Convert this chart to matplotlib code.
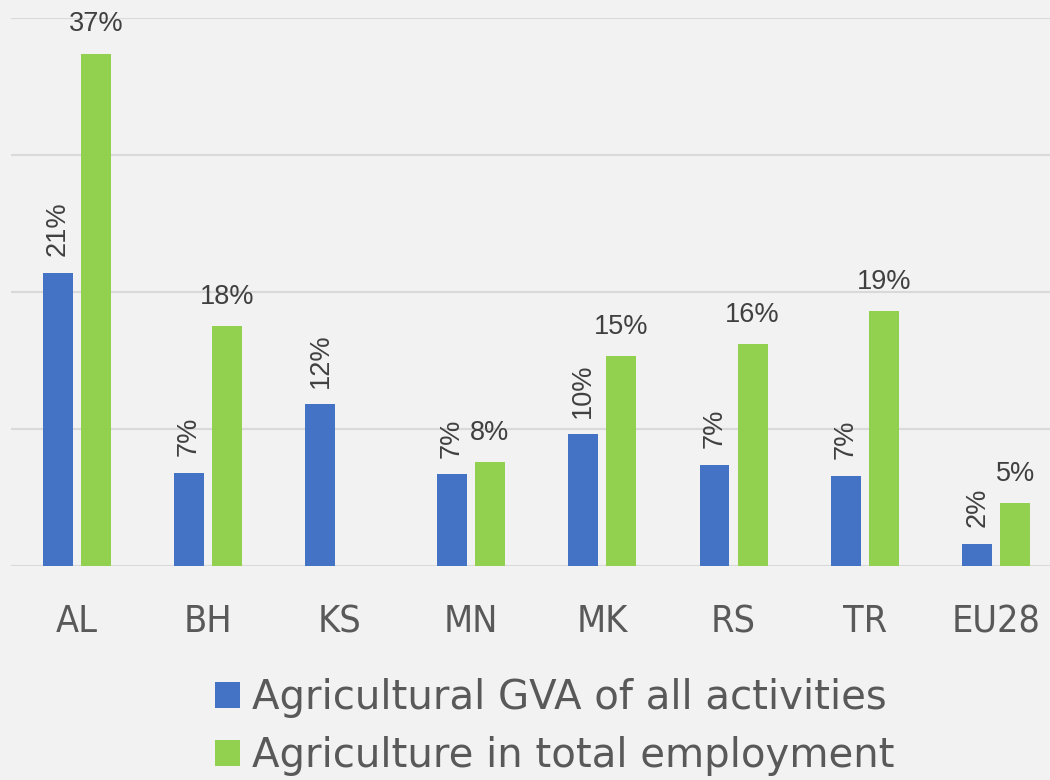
import matplotlib
matplotlib.use("Agg")
import matplotlib.pyplot as plt
from matplotlib import font_manager
from matplotlib.patches import Patch
import numpy as np

categories = ["AL", "BH", "KS", "MN", "MK", "RS", "TR", "EU28"]
gva_share = [21.4, 6.8, 11.8, 6.7, 9.6, 7.4, 6.6, 1.6]
employment_share = [37.4, 17.5, np.nan, 7.6, 15.3, 16.2, 18.6, 4.6]
series_names = ["Agricultural GVA of all activities", "Agriculture in total employment"]

fl = font_manager.fontManager.ttflist
names = {f.name for f in fl}
has_cond = any(f.name == "DejaVu Sans" and f.stretch == "condensed" for f in fl)
regular = "Liberation Sans" if "Liberation Sans" in names else "DejaVu Sans"
if has_cond:
    tick_font = dict(fontfamily="DejaVu Sans", fontstretch="condensed", fontsize=27)
else:
    tick_font = dict(fontfamily="DejaVu Sans", fontsize=25)

BLUE = "#4472C4"
GREEN = "#92D050"
BG = "#F2F2F2"

fig = plt.figure(figsize=(10.5, 7.8), dpi=100, facecolor=BG)
ax = fig.add_axes([11 / 1050, 214 / 780, 1051 / 1050, 548 / 780], facecolor=BG)

x = np.arange(len(categories))
w = 0.228
off = 0.145
ax.bar(x - off, gva_share, w, color=BLUE, zorder=3)
ax.bar(x + off, employment_share, w, color=GREEN, zorder=3)

ax.set_xlim(-0.5, len(categories) - 0.5)
ax.set_ylim(0, 40)
ax.set_yticks([0, 10, 20, 30, 40])
ax.yaxis.grid(True, color="#D9D9D9", linewidth=1.5, zorder=0)
ax.tick_params(axis="y", left=False, labelleft=False)
ax.tick_params(axis="x", bottom=False, pad=24, labelcolor="#595959")
ax.set_xticks(x)
ax.set_xticklabels(categories, **tick_font)
for s in ax.spines.values():
    s.set_visible(False)

for xi, v in zip(x, gva_share):
    if not np.isnan(v):
        ax.annotate(f"{v:.0f}%", (xi - off, v), xytext=(0, 12), textcoords="offset points",
                    rotation=90, ha="center", va="bottom", fontsize=19.5,
                    color="#404040", fontfamily=regular)
for xi, v in zip(x, employment_share):
    if not np.isnan(v):
        ax.annotate(f"{v:.0f}%", (xi + off, v), xytext=(0, 16), textcoords="offset points",
                    ha="center", va="baseline", fontsize=19.5,
                    color="#404040", fontfamily=regular)

handles = [Patch(facecolor=BLUE, edgecolor="none"), Patch(facecolor=GREEN, edgecolor="none")]
leg = fig.legend(handles, series_names, loc="center", bbox_to_anchor=(555 / 1050, 1 - 727 / 780),
                 ncol=1, frameon=False, prop={"family": "DejaVu Sans", "size": 29},
                 handlelength=0.62, handleheight=0.62, handletextpad=0.3, labelspacing=0.45,
                 borderaxespad=0)
for t in leg.get_texts():
    t.set_color("#595959")

fig.savefig("out.png", dpi=100, facecolor=BG)
